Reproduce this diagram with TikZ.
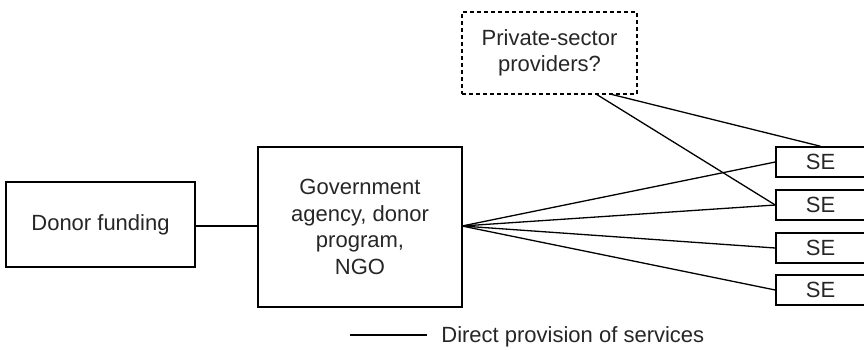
\documentclass[tikz,border=0pt]{standalone}
\usepackage{fontspec}
\setmainfont{Liberation Sans}
\begin{document}
\begin{tikzpicture}[x=0.5pt,y=-0.5pt,
  box/.style={draw, line width=0.75pt, inner sep=0pt, align=center,
    font=\fontsize{11}{13.2}\selectfont, text=black!85},
  sebox/.style={box, minimum width=44.5pt, minimum height=15pt},
  link/.style={line width=0.65pt}]
\useasboundingbox (0,0) rectangle (864,349);
\node[box, minimum width=94.5pt, minimum height=42.5pt] (donor) at (100.5,224.5) {Donor funding};
\node[box, minimum width=102pt, minimum height=80pt] (gov) at (360,227) {Government\\agency, donor\\program,\\NGO};
\node[box, dashed, dash pattern=on 2pt off 1.5pt, minimum width=87.5pt, minimum height=41pt] (priv) at (549.5,53) {Private-sector\\providers?};
\node[sebox] (se1) at (820.5,162) {SE};
\node[sebox] (se2) at (820.5,205) {SE};
\node[sebox] (se3) at (820.5,248) {SE};
\node[sebox] (se4) at (820.5,290) {SE};
\coordinate (fan) at (462,226);
\coordinate (p1) at (596,94);
\coordinate (p2) at (610,94);
\draw[link] (donor.east |- fan) -- (gov.west |- fan);
\foreach \s in {se1,se2,se3,se4} \draw[link] (fan) -- (\s.west);
\draw[link] (p1) -- (se2.west);
\draw[link] (p2) -- (se1.north);
\node[anchor=base west, inner sep=0pt, font=\fontsize{11}{13.2}\selectfont, text=black!85] (leg) at (441,342) {Direct provision of services};
\coordinate (l1) at (350,335);
\coordinate (l2) at (427,335);
\draw[link] (l1) -- (l2);
\end{tikzpicture}
\end{document}
